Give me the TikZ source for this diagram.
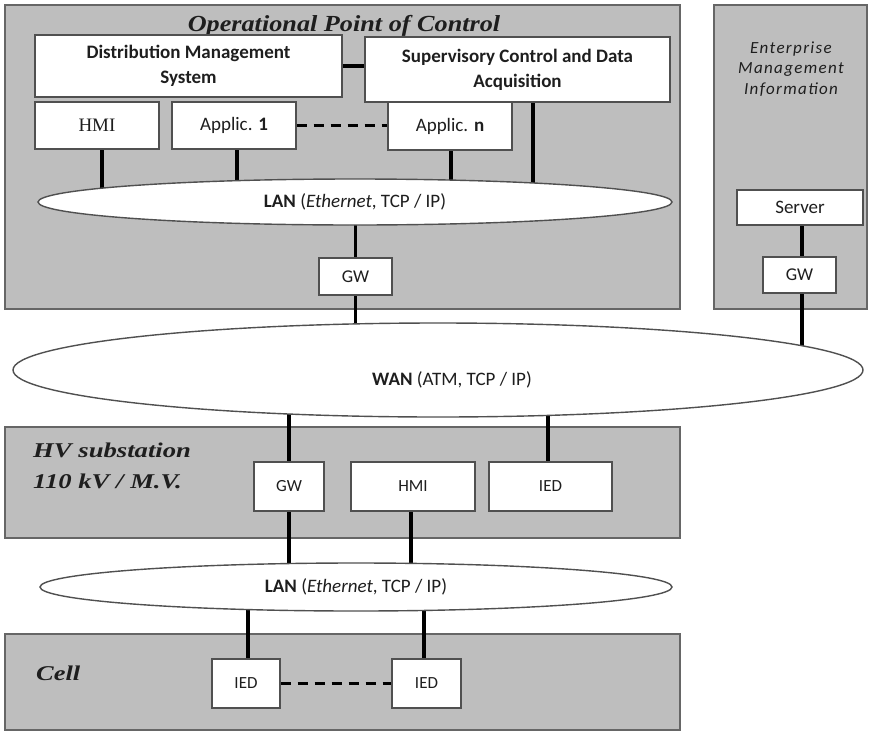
\documentclass[tikz,border=0pt]{standalone}
\usepackage{fontspec}
\usepackage{graphicx}
\setmainfont{Liberation Serif}
\newfontfamily\boxfont{Carlito}
\newfontfamily\entfont[LetterSpace=8]{Carlito}
\usetikzlibrary{shapes.geometric}
\pgfdeclarelayer{panels}
\pgfdeclarelayer{wires}
\pgfsetlayers{panels,wires,main}
\definecolor{panelfill}{HTML}{BEBEBE}
\definecolor{panelline}{HTML}{666666}
\definecolor{boxline}{HTML}{505050}
\definecolor{ink}{HTML}{1E1E1E}
\newcommand\widetitle[2]{\scalebox{#1}[1]{#2}}
\tikzset{
  panel/.style={draw=panelline, fill=panelfill, line width=1.7pt},
  box/.style={draw=boxline, fill=white, line width=1.4pt, inner sep=0pt,
    text=ink, align=center, font=\boxfont\fontsize{19}{25}\selectfont},
  smallbox/.style={box, font=\boxfont\fontsize{17}{21}\selectfont},
  net/.style={ellipse, draw=boxline, fill=white, line width=1.4pt, inner sep=0pt},
  netlabel/.style={text=ink, inner sep=0pt, font=\boxfont\fontsize{19}{23}\selectfont},
  wire/.style={line width=3.3pt, black},
  dashwire/.style={wire, dash pattern=on 10pt off 7pt},
  areatitle/.style={text=ink, inner sep=0pt, anchor=base west,
    font=\bfseries\itshape\fontsize{21}{25}\selectfont},
  enttext/.style={text=ink, inner sep=0pt, anchor=base,
    font=\entfont\itshape\fontsize{17}{20}\selectfont}
}
\begin{document}
\begin{tikzpicture}[x=1pt,y=-1pt]
\useasboundingbox (0,0) rectangle (869,731);

% ---------- page background and area panels ----------
\begin{pgfonlayer}{panels}
  \fill[white] (0,0) rectangle (869,731);
  \draw[panel] (5,5) rectangle (680,309);
  \draw[panel] (714,5) rectangle (867,309);
  \draw[panel] (5,427) rectangle (680,538);
  \draw[panel] (5,634) rectangle (680,730);
\end{pgfonlayer}

% ---------- operational point of control ----------
\node[text=ink, inner sep=0pt, anchor=base,
  font=\bfseries\itshape\fontsize{23}{27}\selectfont] (opc) at (344,31)
  {\widetitle{1.14}{Operational Point of Control}};

\node[box, minimum width=307pt, minimum height=62pt] (dms) at (188.5,66)
  {\bfseries Distribution Management\\\bfseries System};
\node[box, minimum width=124pt, minimum height=48pt] (appn) at (450,126)
  {Applic. \textbf{n}};
\node[box, minimum width=305pt, minimum height=65pt] (scada) at (517.5,69.5)
  {\bfseries Supervisory Control and Data\\\bfseries Acquisition};
\node[box, minimum width=124pt, minimum height=47pt,
  font=\fontsize{19}{23}\selectfont] (hmi) at (97,125.5) {HMI};
\node[box, minimum width=124pt, minimum height=47pt] (app1) at (234,125.5)
  {Applic. \textbf{1}};

\node[net, minimum width=634pt, minimum height=46pt] (lan) at (355,202) {};
\node[netlabel] (lanlbl) at (lan.center)
  {\textbf{LAN} (\textit{Ethernet}, TCP / IP)};

\node[box, minimum width=73pt, minimum height=37pt, font=\boxfont\fontsize{18}{22}\selectfont]
  (gwa) at (355.5,276.5) {GW};

% ---------- enterprise management information ----------
\node[enttext] (ent1) at (791,53) {Enterprise};
\node[enttext] (ent2) at (791,73) {Management};
\node[enttext] (ent3) at (791,94) {Information};
\node[box, minimum width=126pt, minimum height=35pt] (server) at (800,207.5) {Server};
\node[box, minimum width=73pt, minimum height=36pt, font=\boxfont\fontsize{18}{22}\selectfont]
  (gwb) at (799.5,275) {GW};

% ---------- wide area network ----------
\node[net, minimum width=850pt, minimum height=94pt] (wan) at (438,370) {};
\node[netlabel] (wanlbl) at (452,380) {\textbf{WAN} (ATM, TCP / IP)};

% ---------- HV substation ----------
\node[areatitle] (hv1) at (33,457) {\widetitle{1.27}{HV substation}};
\node[areatitle] (hv2) at (33,488) {\widetitle{1.27}{110 kV / M.V.}};
\node[smallbox, minimum width=70pt, minimum height=49pt] (gwc) at (289,486.5) {GW};
\node[smallbox, minimum width=124pt, minimum height=49pt] (hmic) at (413,486.5) {HMI};
\node[smallbox, minimum width=123pt, minimum height=49pt] (iedc) at (550.5,486.5) {IED};

\node[net, minimum width=632pt, minimum height=48pt] (lanb) at (356,587) {};
\node[netlabel] (lanblbl) at (lanb.center)
  {\textbf{LAN} (\textit{Ethernet}, TCP / IP)};

% ---------- cell ----------
\node[areatitle] (cell) at (36,680) {\widetitle{1.26}{Cell}};
\node[smallbox, minimum width=68pt, minimum height=49pt] (ieda) at (246,683.5) {IED};
\node[smallbox, minimum width=69pt, minimum height=49pt] (iedb) at (426.5,683.5) {IED};

% ---------- connectors ----------
\begin{pgfonlayer}{wires}
  \draw[wire] (dms.east) -- (dms.east -| scada.west);
  \draw[dashwire] (app1.east) -- (app1.east -| appn.west);

  \coordinate (hmiport) at ([xshift=5pt]hmi.south);
  \coordinate (app1port) at ([xshift=3pt]app1.south);
  \coordinate (appnport) at ([xshift=1pt]appn.south);
  \coordinate (scadaport) at ([xshift=15.5pt]scada.south);
  \draw[wire] (hmiport) -- (hmiport |- lan.center);
  \draw[wire] (app1port) -- (app1port |- lan.center);
  \draw[wire] (appnport) -- (appnport |- lan.center);
  \draw[wire] (scadaport) -- (scadaport |- lan.center);

  \draw[wire] (gwa.north) -- (gwa.north |- lan.center);
  \draw[wire] (gwa.south) -- (gwa.south |- wan.center);

  \coordinate (srvport) at ([xshift=2pt]server.south);
  \draw[wire] (srvport) -- (srvport |- gwb.north);
  \coordinate (gwbport) at ([xshift=2.5pt]gwb.south);
  \draw[wire] (gwbport) -- (gwbport |- wan.center);

  \draw[wire] (gwc.north) -- (gwc.north |- wan.center);
  \coordinate (iedcport) at ([xshift=-2.5pt]iedc.north);
  \draw[wire] (iedcport) -- (iedcport |- wan.center);

  \draw[wire] (gwc.south) -- (gwc.south |- lanb.center);
  \coordinate (hmicport) at ([xshift=-2pt]hmic.south);
  \draw[wire] (hmicport) -- (hmicport |- lanb.center);

  \coordinate (iedaport) at ([xshift=2pt]ieda.north);
  \coordinate (iedbport) at ([xshift=-2.5pt]iedb.north);
  \draw[wire] (iedaport) -- (iedaport |- lanb.center);
  \draw[wire] (iedbport) -- (iedbport |- lanb.center);

  \draw[dashwire] (ieda.east) -- (iedb.west);
\end{pgfonlayer}
\end{tikzpicture}
\end{document}
